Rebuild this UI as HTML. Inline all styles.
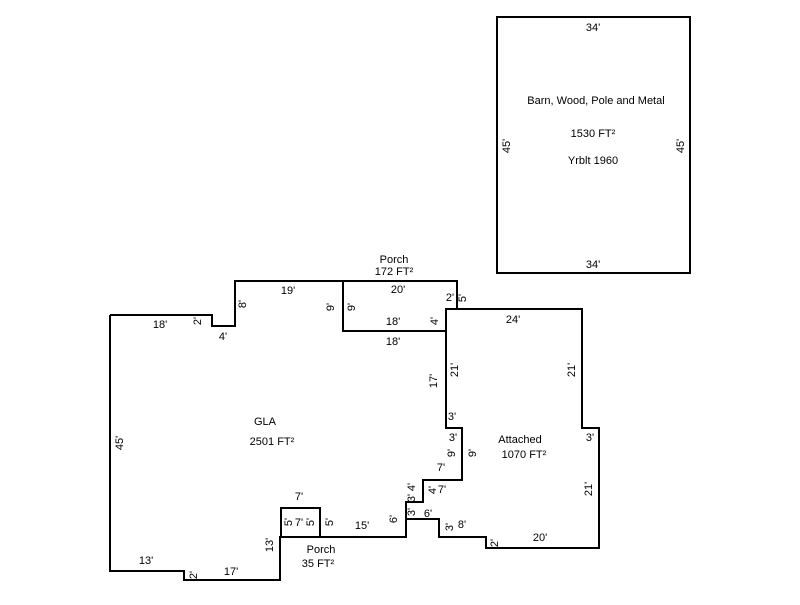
<!DOCTYPE html>
<html><head><meta charset="utf-8"><style>
body{margin:0;background:#fff}
svg text{font-family:"Liberation Sans",Arial,sans-serif;font-size:11px;fill:#000}
</style></head><body>
<svg width="800" height="600" xmlns="http://www.w3.org/2000/svg">
<g fill="none" stroke="#000" stroke-width="2">
<rect x="497" y="17" width="193" height="256"/>
<polyline points="110,315 212,315 212,326 235,326 235,281 457,281 457,309 446,309 446,428 462,428 462,480 423,480 423,502 406,502 406,537 280,537 280,580 184,580 184,571 110,571 110,315"/>
<polyline points="343,281 343,331 446,331"/>
<polyline points="446,309 582,309 582,428 599,428 599,548 486,548 486,537 439,537 439,519 406,519"/>
<rect x="281" y="508" width="39" height="29"/>
</g>
<g text-anchor="middle">
<text x="593" y="31">34'</text>
<text x="596" y="104">Barn, Wood, Pole and Metal</text>
<text x="593" y="137">1530 FT²</text>
<text x="593" y="164">Yrblt 1960</text>
<text x="593" y="268">34'</text>
<text x="394" y="263">Porch</text>
<text x="394" y="275">172 FT²</text>
<text x="288" y="294">19'</text>
<text x="398" y="293">20'</text>
<text x="450" y="301">2'</text>
<text x="160" y="328">18'</text>
<text x="223" y="340">4'</text>
<text x="393" y="325">18'</text>
<text x="393" y="345">18'</text>
<text x="513" y="323">24'</text>
<text x="265" y="425">GLA</text>
<text x="272" y="445">2501 FT²</text>
<text x="452" y="420">3'</text>
<text x="453" y="441">3'</text>
<text x="520" y="443">Attached</text>
<text x="524" y="458">1070 FT²</text>
<text x="590" y="441">3'</text>
<text x="441" y="471">7'</text>
<text x="442" y="493">7'</text>
<text x="299" y="500">7'</text>
<text x="299" y="526">7'</text>
<text x="362" y="529">15'</text>
<text x="428" y="517">6'</text>
<text x="462" y="528">8'</text>
<text x="540" y="541">20'</text>
<text x="146" y="564">13'</text>
<text x="231" y="575">17'</text>
<text x="321" y="553">Porch</text>
<text x="318" y="567">35 FT²</text>
</g>
<g text-anchor="middle">
<text transform="translate(510,146) rotate(-90)">45'</text>
<text transform="translate(684,146) rotate(-90)">45'</text>
<text transform="translate(201,321) rotate(-90)">2'</text>
<text transform="translate(246,304) rotate(-90)">8'</text>
<text transform="translate(334,307) rotate(-90)">9'</text>
<text transform="translate(355,307) rotate(-90)">9'</text>
<text transform="translate(466,298) rotate(-90)">5'</text>
<text transform="translate(438,321) rotate(-90)">4'</text>
<text transform="translate(458,370) rotate(-90)">21'</text>
<text transform="translate(437,381) rotate(-90)">17'</text>
<text transform="translate(575,370) rotate(-90)">21'</text>
<text transform="translate(123,443) rotate(-90)">45'</text>
<text transform="translate(455,453) rotate(-90)">9'</text>
<text transform="translate(476,453) rotate(-90)">9'</text>
<text transform="translate(415,487) rotate(-90)">4'</text>
<text transform="translate(436,490) rotate(-90)">4'</text>
<text transform="translate(415,498) rotate(-90)">3'</text>
<text transform="translate(415,512) rotate(-90)">3'</text>
<text transform="translate(397,519) rotate(-90)">6'</text>
<text transform="translate(592,489) rotate(-90)">21'</text>
<text transform="translate(453,527) rotate(-90)">3'</text>
<text transform="translate(498,543) rotate(-90)">2'</text>
<text transform="translate(292,522) rotate(-90)">5'</text>
<text transform="translate(314,522) rotate(-90)">5'</text>
<text transform="translate(333,522) rotate(-90)">5'</text>
<text transform="translate(273,545) rotate(-90)">13'</text>
<text transform="translate(197,575) rotate(-90)">2'</text>
</g>
</svg>
</body></html>
